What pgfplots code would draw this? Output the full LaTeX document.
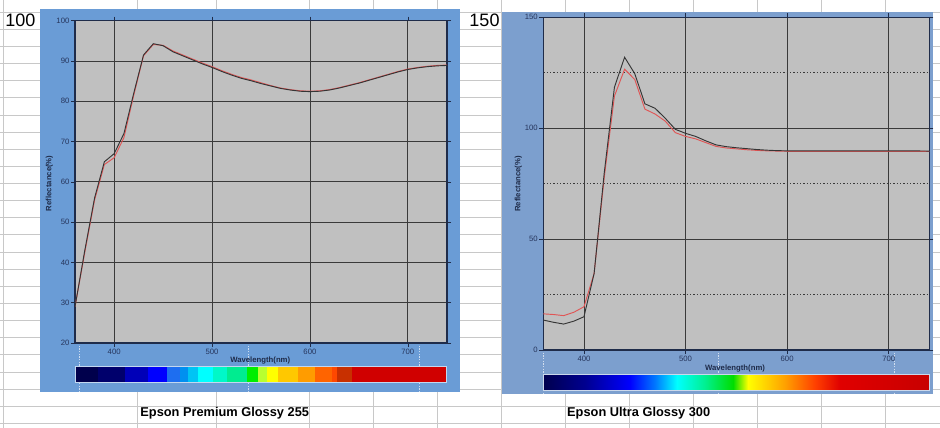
\documentclass[border=0pt]{standalone}
\usepackage{pgfplots}
\pgfplotsset{compat=1.18}
\usepackage{fontspec}
\setmainfont{Liberation Sans}
\definecolor{sheetgrid}{HTML}{C8C8C8}
\definecolor{panelL}{HTML}{6A9CD6}
\definecolor{panelR}{HTML}{7C9FCE}
\definecolor{plotbg}{HTML}{C0C0C0}
\definecolor{gridc}{HTML}{3A3A3A}
\definecolor{ticktext}{HTML}{26355C}
\definecolor{axisc}{HTML}{1F2C4A}
\definecolor{curveK}{HTML}{353535}
\definecolor{curveR}{HTML}{E05555}
% right bar stops
\definecolor{r0}{HTML}{00004E}
\definecolor{r1}{HTML}{000090}
\definecolor{r2}{HTML}{0000FF}
\definecolor{r3}{HTML}{0078FF}
\definecolor{r4}{HTML}{00FFFF}
\definecolor{r5}{HTML}{00F090}
\definecolor{r6}{HTML}{00DD00}
\definecolor{r7}{HTML}{FFFF00}
\definecolor{r8}{HTML}{FFA000}
\definecolor{r9}{HTML}{FF4000}
\definecolor{r10}{HTML}{E00000}
\definecolor{r11}{HTML}{C80000}

\pgfplotstableread{
x k r
360 29 29
370 43 42.5
380 56 55.5
390 65 64.3
400 67 66
410 72 71
420 82 81.5
430 91.5 91.3
440 94.3 94.1
450 93.8 93.9
460 92.3 92.5
470 91.3 91.5
480 90.3 90.5
490 89.3 89.5
500 88.4 88.6
510 87.4 87.6
520 86.5 86.7
530 85.7 85.9
540 85.1 85.3
550 84.4 84.6
560 83.8 83.9
570 83.2 83.3
580 82.8 82.9
590 82.5 82.6
600 82.4 82.5
610 82.5 82.6
620 82.8 82.9
630 83.3 83.4
640 83.9 84.0
650 84.5 84.6
660 85.2 85.3
670 85.9 86.0
680 86.6 86.7
690 87.3 87.4
700 87.9 88.0
710 88.3 88.4
720 88.6 88.7
730 88.8 88.9
740 88.9 89.0
}\premium

\pgfplotstableread{
x k r
360 13.5 16.3
370 12.5 16.0
380 11.7 15.5
390 13.0 17.0
400 15.0 19.5
410 34.5 34.5
420 80 78
430 118.5 114.5
440 132 126.6
450 124.6 122
460 111 108.6
470 109 106.4
480 104.5 103.2
490 99.5 98
500 97.7 96.3
510 96.3 95.2
520 94.3 93.5
530 92.5 91.8
540 91.7 91.1
550 91.2 90.7
560 90.8 90.3
570 90.4 90.0
580 90.1 89.8
590 89.9 89.7
600 89.8 89.6
620 89.8 89.6
640 89.8 89.6
660 89.8 89.6
680 89.8 89.6
700 89.8 89.6
720 89.8 89.6
740 89.7 89.5
}\ultra

\begin{document}
\begin{tikzpicture}
\begin{scope}[x=0.75pt,y=-0.75pt]
\fill[white] (0,0) rectangle (940,428);
\foreach \k in {0,...,24} \draw[sheetgrid, line width=0.75pt] (0,{12.3+17.13*\k}) -- (940,{12.3+17.13*\k});
\foreach \xx in {3.3,137,216,309,373,437,501.7,565.7,629.3,693.3,757.3,821.7,885.7}
  \draw[sheetgrid,line width=0.75pt] (\xx,0) -- (\xx,428);
% panels
\fill[panelL] (40,9.3) rectangle (460,391.7);
\fill[panelR] (501.7,11.7) rectangle (933.3,394);
% faint white dotted lines in panels
\foreach \xx in {79,248,419}
  \draw[white!65!panelL, line width=0.7pt, dash pattern=on 1pt off 1pt] (\xx,343) -- (\xx,391.7);
\foreach \xx in {543.3,718.3,894}
  \draw[white!65!panelR, line width=0.7pt, dash pattern=on 1pt off 1pt] (\xx,350) -- (\xx,394);
% left colour bar
\foreach \a/\b/\c in {75/98.3/00004C,98.3/125/00006C,125/148.3/0000B8,148.3/166.7/0000FF,166.7/180/1E6EF0,180/188.3/0090F0,188.3/198.3/00C4F4,198.3/213.3/00FFFF,213.3/226.7/00F8C8,226.7/246.7/00EC90,246.7/258.3/00EE00,258.3/266.7/B8FF30,266.7/278.3/FFFF00,278.3/298.3/FFC800,298.3/315/FF9C00,315/331.7/FF6400,331.7/336.7/FF4800,336.7/351.7/C83000,351.7/446.7/D00000}
{
  \definecolor{tmpc}{HTML}{\c}
  \fill[tmpc] (\a,366.7) rectangle (\b,382.3);
}
\draw[white!60!panelL, line width=0.6pt] (75,366.7) rectangle (446.7,382.3);
% right colour bar
\foreach \a/\b/\ca/\cb in {543.3/585/r0/r1,585/630/r1/r2,630/655/r2/r3,655/677/r3/r4,677/705/r4/r5,705/733/r5/r6,733/748/r6/r7,748/785/r7/r8,785/815/r8/r9,815/840/r9/r10,840/929.3/r10/r11}
{
  \shade[left color=\ca, right color=\cb] (\a,374.3) rectangle (\b,390.7);
}
\draw[white!60!panelR, line width=0.6pt] (543.3,374.3) rectangle (929.3,390.7);
% titles
\node[font=\fontsize{13.5}{15}\selectfont] at (20.3,20.5) {100};
\node[font=\fontsize{13.5}{15}\selectfont] at (484.5,20.5) {150};
\node[font=\bfseries\fontsize{9.6}{11}\selectfont] at (224.7,413.3) {Epson Premium Glossy 255};
\node[font=\bfseries\fontsize{9.6}{11}\selectfont] at (638.7,413.3) {Epson Ultra Glossy 300};
\end{scope}

\pgfplotsset{
  specstyle/.style={
    scale only axis,
    xmin=360, xmax=740,
    xtick={400,500,600,700},
    axis background/.style={fill=plotbg},
    axis line style={draw=axisc, line width=0.8pt},
    tick align=outside,
    major tick length=3pt,
    tick style={draw=axisc, line width=0.5pt},
    ticklabel style={font=\fontsize{5.8}{6}\selectfont, text=ticktext},
    /pgf/number format/assume math mode=true,
    xticklabel style={inner sep=1.5pt},
    yticklabel style={inner sep=1pt},
    label style={font=\bfseries\fontsize{5.8}{6.5}\selectfont, text=axisc},
    major grid style={draw=gridc, line width=0.6pt},
    xlabel={Wavelength(nm)},
    ylabel={Reflectance(\%)},
  }
}

\begin{axis}[specstyle,
  at={(56.25pt,-257.25pt)}, anchor=south west,
  width=279pt, height=241.7pt,
  ymin=20, ymax=100,
  ytick={20,30,...,100},
  grid=major,
  xlabel style={at={(axis description cs:0.498,-0.055)}, anchor=center},
  ylabel style={at={(axis description cs:-0.069,0.4955)}, anchor=center, rotate=0},
]
\addplot[curveR, line width=0.7pt] table[x=x,y=r] {\premium};
\addplot[curveK, line width=0.7pt] table[x=x,y=k] {\premium};
\end{axis}

\begin{axis}[specstyle,
  at={(407.5pt,-262.5pt)}, anchor=south west,
  width=289.5pt, height=249.5pt,
  ymin=0, ymax=150,
  ytick={0,50,100,150},
  minor ytick={25,75,125},
  minor tick length=0pt,
  grid=both,
  minor grid style={draw=gridc, line width=0.6pt, dash pattern=on 1pt off 1.5pt},
  xlabel style={at={(axis description cs:0.4966,-0.057)}, anchor=center},
  ylabel style={at={(axis description cs:-0.0648,0.499)}, anchor=center},
]
\addplot[curveR, line width=0.7pt] table[x=x,y=r] {\ultra};
\addplot[curveK, line width=0.7pt] table[x=x,y=k] {\ultra};
\end{axis}

\pgfresetboundingbox
\path[use as bounding box] (0pt,0pt) rectangle (705pt,-321pt);
\end{tikzpicture}
\end{document}
